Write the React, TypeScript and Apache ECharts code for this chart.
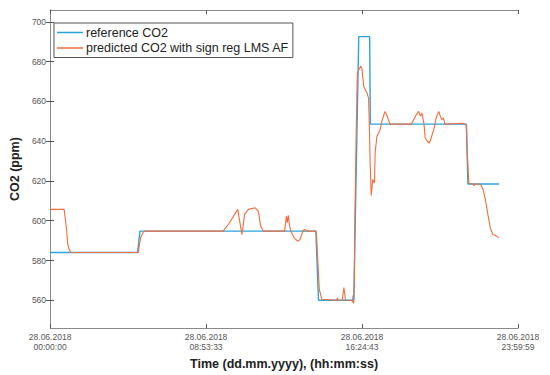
import React, { useEffect, useRef } from "react";
import * as echarts from "echarts";

// x = sample position (ticks every 1000 samples), y = CO2 in ppm
const xTickLabels = [
  "28.06.2018\n00:00:00",
  "28.06.2018\n08:53:33",
  "28.06.2018\n16:24:43",
  "28.06.2018\n23:59:59",
];
const yTickValues = [560, 580, 600, 620, 640, 660, 680, 700];
const xTickValues = [0, 1000, 2000, 3000];

const referenceX = [0, 561, 576, 1704, 1721, 1941, 1944, 1947, 1979, 2049, 2053, 2669, 2679, 2878];
const referenceY = [584, 584, 594.8, 594.8, 560, 560, 562.5, 560, 692.6, 692.6, 648.6, 648.6, 618.5, 618.5];

const predictedX = [
  0, 90, 106, 112, 120, 133, 565, 573, 582, 595, 608, 1109, 1146, 1203, 1230, 1247, 1272, 1315, 1335, 1350,
  1367, 1504, 1515, 1521, 1527, 1536, 1546, 1568, 1589, 1603, 1620, 1631, 1646, 1704, 1709, 1715, 1726, 1742,
  1838, 1842, 1846, 1873, 1884, 1894, 1924, 1937, 1947, 1951, 1954, 1964, 1970, 1992, 2000, 2011, 2032, 2042,
  2046, 2052, 2059, 2069, 2080, 2084, 2095, 2116, 2127, 2147, 2158, 2165, 2179, 2316, 2348, 2363, 2375, 2384,
  2397, 2405, 2418, 2432, 2443, 2460, 2475, 2492, 2502, 2513, 2521, 2532, 2644, 2669, 2675, 2685, 2707, 2717,
  2728, 2759, 2776, 2791, 2805, 2822, 2839, 2854, 2878,
];
const predictedY = [
  605.7, 605.7, 595.6, 589, 586, 584, 584, 588, 592, 594, 594.8, 594.8, 598.5, 605.7, 593, 603.2, 605.7, 606.5, 604.8, 597.3,
  594.8, 594.8, 602.3, 599, 602.7, 597.3, 594.3, 591, 589.8, 590.6, 594.8, 595.6, 594.8, 594.8, 592, 582, 565.5, 560.5,
  560, 561, 560, 560, 566.4, 560, 560, 559.7, 558.5, 570.6, 600.7, 650.8, 674.3, 677.9, 676, 667.5, 664.2, 661.7,
  650.8, 629.1, 612.7, 620.7, 619.1, 634.1, 642.4, 645.8, 650, 655, 653.3, 651.7, 648.6, 648.6, 653.3, 655, 652.5, 654.2,
  648.8, 641.6, 640, 639.1, 641.6, 645.8, 651.7, 655, 652.5, 650.8, 651.7, 648.6, 649, 648, 634, 619, 618.5, 617.7,
  618.5, 618.5, 615.7, 610.7, 604, 596.5, 593.1, 592.6, 591.5,
];

const seriesNames = ["reference CO2", "predicted CO2 with sign reg LMS AF"];
const seriesColors = ["#29a6df", "#f46c3c"];

const FONT = "Arial, 'Liberation Sans', Helvetica, sans-serif";

export default function App() {
  const ref = useRef<HTMLDivElement>(null);

  useEffect(() => {
    if (!ref.current) return;
    const chart = echarts.init(ref.current, undefined, { renderer: "svg" });
    const refData = referenceX.map((x, i) => [x, referenceY[i]]);
    const predData = predictedX.map((x, i) => [x, predictedY[i]]);
    const axisLineStyle = { color: "#8a8a8a", width: 1 };

    chart.setOption({
      animation: false,
      backgroundColor: "#ffffff",
      grid: { left: 44, top: 10, right: 32, bottom: 46, containLabel: false },
      legend: {
        data: seriesNames,
        orient: "vertical",
        left: 54,
        top: 23,
        icon: "rect",
        itemWidth: 26,
        itemHeight: 1.5,
        itemGap: 2.5,
        padding: [3, 4, 3, 3],
        borderColor: "#555",
        borderWidth: 1,
        backgroundColor: "#fff",
        textStyle: { fontFamily: FONT, fontSize: 12.5, color: "#222", lineHeight: 13, padding: [0, 0, 0, -2] },
      },
      xAxis: [
        {
          type: "value",
          min: 0,
          max: 3000,
          interval: 1000,
          name: "Time (dd.mm.yyyy), (hh:mm:ss)",
          nameLocation: "middle",
          nameGap: 27,
          nameTextStyle: { fontFamily: FONT, fontSize: 12.5, fontWeight: "bold", color: "#222" },
          axisLine: { show: true, lineStyle: axisLineStyle },
          axisTick: { show: true, inside: true, length: 4, lineStyle: { color: "#555" } },
          axisLabel: {
            fontFamily: FONT,
            fontSize: 8.5,
            color: "#555",
            margin: 4,
            lineHeight: 10,
            formatter: (v: number) => {
              const idx = xTickValues.indexOf(Math.round(v));
              return idx >= 0 ? xTickLabels[idx] : "";
            },
          },
          splitLine: { show: false },
        },
        {
          type: "value",
          position: "top",
          min: 0,
          max: 3000,
          interval: 1000,
          axisLine: { show: true, lineStyle: axisLineStyle },
          axisTick: { show: true, inside: true, length: 4, lineStyle: { color: "#555" } },
          axisLabel: { show: false },
          splitLine: { show: false },
        },
      ],
      yAxis: [
        {
          type: "value",
          min: 546,
          max: 706,
          name: "CO2 (ppm)",
          nameLocation: "middle",
          nameGap: 23,
          nameTextStyle: { fontFamily: FONT, fontSize: 12.5, fontWeight: "bold", color: "#222" },
          axisLine: { show: true, lineStyle: axisLineStyle },
          axisTick: { show: true, inside: true, length: 4, customValues: yTickValues, lineStyle: { color: "#555" } },
          axisLabel: { fontFamily: FONT, fontSize: 8.5, color: "#555", margin: 4, customValues: yTickValues },
          splitLine: { show: false },
        },
        {
          type: "value",
          position: "right",
          min: 546,
          max: 706,
          axisLine: { show: true, lineStyle: axisLineStyle },
          axisTick: { show: true, inside: true, length: 4, customValues: yTickValues, lineStyle: { color: "#555" } },
          axisLabel: { show: false },
          splitLine: { show: false },
        },
      ],
      series: [
        {
          name: seriesNames[0],
          type: "line",
          xAxisIndex: 0,
          yAxisIndex: 0,
          data: refData,
          showSymbol: false,
          symbol: "none",
          color: seriesColors[0],
          lineStyle: { width: 1.4, color: seriesColors[0] },
        },
        {
          name: seriesNames[1],
          type: "line",
          xAxisIndex: 0,
          yAxisIndex: 0,
          data: predData,
          showSymbol: false,
          symbol: "none",
          color: seriesColors[1],
          lineStyle: { width: 1.1, color: seriesColors[1] },
        },
      ],
    });

    return () => chart.dispose();
  }, []);

  return (
    <div
      ref={ref}
      style={{ position: "fixed", left: 0, top: 0, width: 550, height: 375, background: "#fff" }}
    />
  );
}
